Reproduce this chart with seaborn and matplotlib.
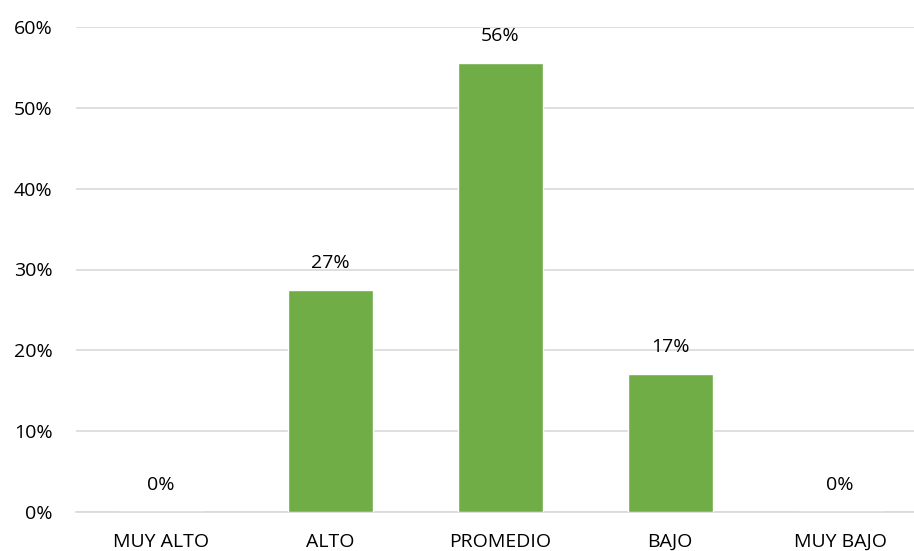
import matplotlib
matplotlib.use('Agg')
import pandas as pd
import seaborn as sns
import matplotlib.pyplot as plt
from matplotlib.ticker import PercentFormatter

categories = ['MUY ALTO', 'ALTO', 'PROMEDIO', 'BAJO', 'MUY BAJO']
values = [0.0, 0.275, 0.555, 0.171, 0.0]
labels = ['0%', '27%', '56%', '17%', '0%']

df = pd.DataFrame({'nivel': categories, 'pct': values})

sns.set_style('white')
plt.rcParams['font.family'] = ['Open Sans', 'DejaVu Sans']

fig = plt.figure(figsize=(9.14, 5.51), dpi=100)
ax = fig.add_axes([76 / 914, 39 / 551, 849 / 914, 485 / 551])

sns.barplot(data=df, x='nivel', y='pct', color='#70ad47', width=0.5,
            saturation=1, ax=ax, zorder=3)

ax.set_ylim(0, 0.6)
ax.set_yticks([0, 0.1, 0.2, 0.3, 0.4, 0.5, 0.6])
ax.yaxis.set_major_formatter(PercentFormatter(1.0, decimals=0))
ax.grid(axis='y', color='#d9d9d9', linewidth=1.2, zorder=0)
ax.set_xlabel('')
ax.set_ylabel('')
for s in ['top', 'right', 'left']:
    ax.spines[s].set_visible(False)
ax.spines['bottom'].set_color('#d9d9d9')
ax.spines['bottom'].set_linewidth(1.2)
ax.tick_params(axis='both', length=0, labelsize=14, colors='black')
ax.tick_params(axis='y', pad=17)
ax.tick_params(axis='x', pad=15)

for i, (v, t) in enumerate(zip(values, labels)):
    ax.annotate(t, (i, v), xytext=(0, 13), textcoords='offset points',
                ha='center', va='bottom', fontsize=14, color='black')

fig.savefig('out.png', dpi=100)
